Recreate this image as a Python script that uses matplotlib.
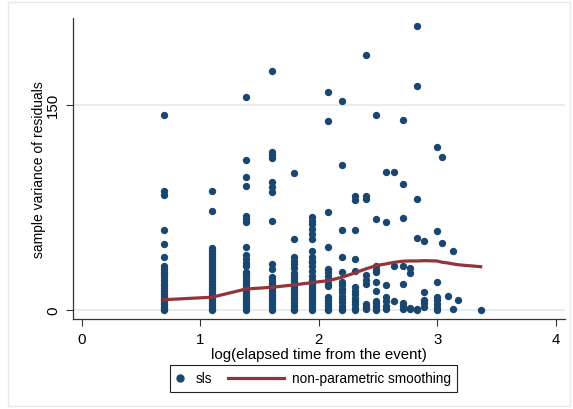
import numpy as np
import matplotlib
matplotlib.use("Agg")
import matplotlib.pyplot as plt
from matplotlib.lines import Line2D
from matplotlib.legend_handler import HandlerLine2D
from matplotlib.patches import Rectangle

plt.rcParams['font.family'] = ['Liberation Sans', 'DejaVu Sans']

days = [2, 3, 4, 5, 6, 7, 8, 9, 10, 11, 12, 13, 14, 15, 16, 17, 18, 20, 21, 22, 23, 24, 29]
variance = [
    [142.6, 86.7, 84.2, 58.4, 48.2, 38.9, 32.4, 30, 28, 26, 24, 22, 20, 18, 16, 14, 12, 10, 8, 6, 4, 2, 1, 0],
    [86.7, 72.5, 45, 43, 41, 39, 37, 35, 33, 31, 29, 27, 25, 23, 21, 19, 17, 15, 13, 11, 9, 7, 5, 3, 1, 0],
    [155.6, 109.3, 97.4, 90.6, 68.7, 66.5, 64.3, 46, 40, 37, 34, 32, 28, 26, 24, 22, 20, 18, 16, 14, 12, 10, 8, 6, 4, 2, 0],
    [174.6, 115.6, 113.2, 110.8, 93.3, 89.6, 86.4, 65, 33.6, 30, 24, 22, 20, 18, 16, 14, 12, 10, 8, 6, 4, 2, 0],
    [99.8, 51.6, 38.7, 36, 33.5, 31, 27, 25, 23, 21, 19, 17, 15, 13, 11, 9, 7, 5, 3, 1, 0],
    [67.9, 65, 63, 59, 55.5, 52, 43, 38.5, 36, 34.8, 32.4, 28.7, 25, 22, 20, 18, 16, 14, 12, 10, 8, 6, 4, 2, 0],
    [159, 137.8, 71.8, 45.8, 30, 28, 25, 22, 19, 17.5, 9.5, 7, 5, 3, 1, 0],
    [152.4, 105.9, 58.7, 38.5, 28, 20.5, 18, 15.5, 13, 10.5, 8, 5.5, 3, 1, 0],
    [83, 80, 58.7, 37.2, 28.7, 16.8, 14, 11.5, 9, 6.5, 4, 1.5, 0],
    [186.2, 83.5, 81, 25.5, 22, 19, 4.5, 2.5, 0.5],
    [142.4, 66.5, 32.4, 29.5, 27.5, 20.5, 14.1, 6.8, 5, 3, 1, 0],
    [100.6, 64, 18.3, 9.5, 6.5, 3, 0.7],
    [100.6, 31.9, 6.8],
    [138.8, 92, 67.2, 32.4, 19, 5, 3, 0.7],
    [31, 27, 1.5, 0.5],
    [207.7, 163.8, 81, 52.8, 0.7, 0],
    [50.4, 13.4, 7, 5, 2.5],
    [119.3, 58, 20.2, 9.5, 7, 4, 1.5, 0],
    [111.5, 48.9],
    [10.4],
    [42.8, 0.7],
    [7.3],
    [0],
]
# lowess fit evaluated at each day
smooth = [7.5, 9.3, 15.3, 16.6, 18.3, 20, 21.4, 23.9, 27, 30, 32.4, 33.6, 34.8,
          35.6, 35.8, 35.8, 36, 35.8, 34.8, 34.3, 33.6, 33, 31.6]

navy = "#1a476f"
maroon = "#90353b"
grid_col = "#e4ecee"
fs = 10.8

x_pts = np.concatenate([[np.log(d)] * len(v) for d, v in zip(days, variance)])
y_pts = np.concatenate(variance)

W, H = 573, 410
fig = plt.figure(figsize=(W / 100, H / 100), dpi=100)
fig.patches.append(Rectangle((8 / W, 3 / H), 562 / W, 404 / H, transform=fig.transFigure,
                             fill=False, edgecolor="#e6eaec", lw=1.0))
ax = fig.add_axes([72.7 / W, 1 - 320 / H, (565 - 72.7) / W, (320 - 19.3) / H])

for yv in [0, 150]:
    ax.axhline(yv, color=grid_col, lw=1.3, zorder=0)

ax.scatter(x_pts, y_pts, s=28, color=navy, linewidths=0, zorder=2)
ax.plot(np.log(days), smooth, color=maroon, lw=2.3, zorder=3)

ax.set_xlim(-0.076, 4.079)
ax.set_ylim(-6.6, 213)
ax.set_xticks([0, 1, 2, 3, 4])
ax.set_yticks([0, 150])
ax.set_yticklabels(["0", "150"], rotation=90, va="center")
ax.tick_params(axis="both", labelsize=fs, length=5, width=0.8, color="#333333", pad=4)

for s in ["top", "right"]:
    ax.spines[s].set_visible(False)
for s in ["left", "bottom"]:
    ax.spines[s].set_color("#333333")
    ax.spines[s].set_linewidth(0.9)

ax.set_xlabel("log(elapsed time from the event)", fontsize=fs, labelpad=1)
ax.set_ylabel("sample variance of residuals", fontsize=10)
ax.yaxis.set_label_coords(-0.054, 0.5)


class WideLine(HandlerLine2D):
    # draw the line handle wider, reaching back into the column gap
    def get_xdata(self, legend, xdescent, ydescent, width, height, fontsize):
        xs = np.array([-xdescent - 32, -xdescent + width + 2])
        return xs, xs


h1 = Line2D([], [], ls="none", marker="o", ms=5, color=navy)
h2 = Line2D([], [], color=maroon, lw=2.3)
leg = fig.legend([h1, h2], ["sls", "non-parametric smoothing"], loc="center left",
                 bbox_to_anchor=(170 / W, 1 - 379.5 / H), ncol=2, fontsize=9.8,
                 handlelength=0.6, handletextpad=0.8, columnspacing=4.5,
                 borderpad=0.45, borderaxespad=0, fancybox=False, framealpha=1,
                 handler_map={h2: WideLine()})
leg.get_frame().set_edgecolor("#222222")
leg.get_frame().set_linewidth(0.8)

fig.savefig("out.png", dpi=100)
